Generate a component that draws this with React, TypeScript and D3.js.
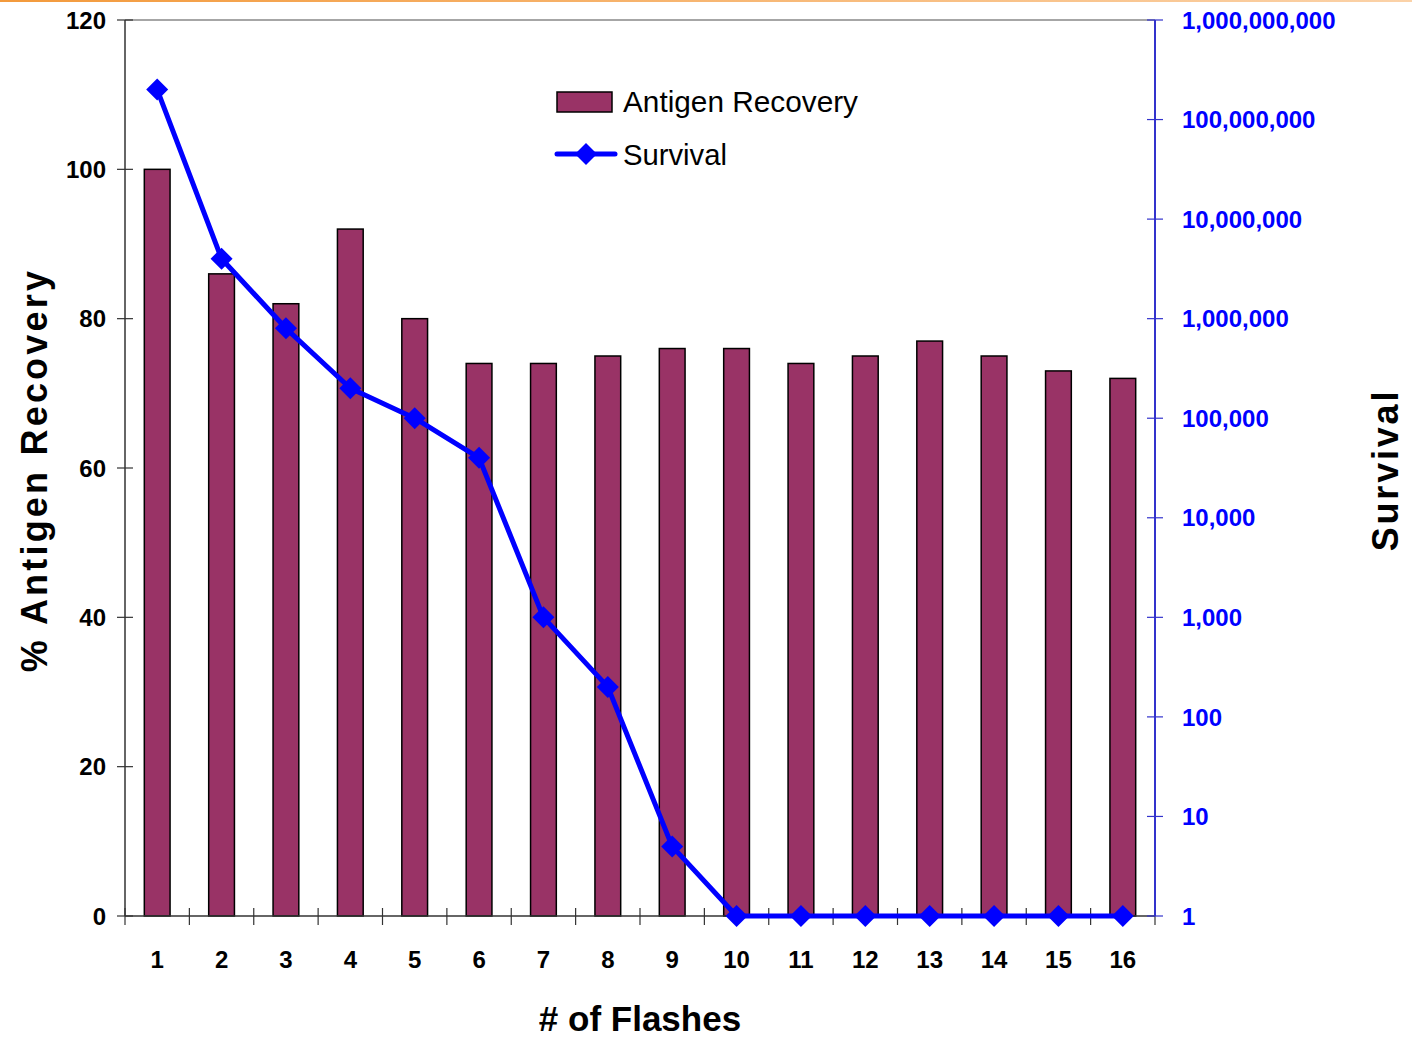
import React from "react";
import * as d3 from "d3";

const flashes = ["1", "2", "3", "4", "5", "6", "7", "8", "9", "10", "11", "12", "13", "14", "15", "16"];
const antigenRecovery = [100, 86, 82, 92, 80, 74, 74, 75, 76, 76, 74, 75, 77, 75, 73, 72];
const survival = [2e8, 4e6, 8e5, 2e5, 1e5, 4e4, 1000, 200, 5, 1, 1, 1, 1, 1, 1, 1];
const leftTicks = [0, 20, 40, 60, 80, 100, 120];
const rightTicks = [1, 10, 100, 1e3, 1e4, 1e5, 1e6, 1e7, 1e8, 1e9];

const W = 1412;
const H = 1037;
const m = { left: 125, right: 1155, top: 20, bottom: 916 };
const FONT = "'Liberation Sans', Arial, sans-serif";

const App: React.FC = () => {
  const x = d3.scaleBand<string>().domain(flashes).range([m.left, m.right]);
  const y = d3.scaleLinear().domain([0, 120]).range([m.bottom, m.top]);
  const yLog = d3.scaleLog().domain([1, 1e9]).range([m.bottom, m.top]);
  const barW = x.bandwidth() * 0.4;
  const fmt = d3.format(",");

  const line = d3
    .line<number>()
    .x((_, i) => (x(flashes[i]) ?? 0) + x.bandwidth() / 2)
    .y((d) => yLog(d));

  const diamond = (cx: number, cy: number, r = 11) =>
    `M${cx},${cy - r}L${cx + r},${cy}L${cx},${cy + r}L${cx - r},${cy}Z`;

  // boundaries between categories for x ticks
  const xBounds = flashes.map((f) => x(f) ?? 0).concat([m.right]);

  return (
    <svg width={W} height={H} style={{ position: "absolute", left: 0, top: 0, background: "#fff" }}>
      <defs>
        <linearGradient id="topbar" x1="0" x2="1" y1="0" y2="0">
          <stop offset="0" stopColor="#f39a3c" />
          <stop offset="1" stopColor="#fbd2a8" />
        </linearGradient>
      </defs>
      <rect x={0} y={0} width={W} height={2} fill="url(#topbar)" />

      {/* plot frame top line */}
      <line x1={m.left} x2={m.right} y1={m.top} y2={m.top} stroke="#888" strokeWidth={1.5} />

      {/* bars */}
      {antigenRecovery.map((v, i) => {
        const cx = (x(flashes[i]) ?? 0) + x.bandwidth() / 2;
        return (
          <rect
            key={i}
            x={cx - barW / 2}
            y={y(v)}
            width={barW}
            height={m.bottom - y(v)}
            fill="#993366"
            stroke="#000"
            strokeWidth={1.5}
          />
        );
      })}

      {/* left axis */}
      <line x1={m.left} x2={m.left} y1={m.top} y2={m.bottom} stroke="#333" strokeWidth={1.5} />
      {leftTicks.map((t) => (
        <g key={t}>
          <line x1={m.left - 8} x2={m.left + 8} y1={y(t)} y2={y(t)} stroke="#333" strokeWidth={1.2} />
          <text
            x={106}
            y={y(t)}
            dy="0.36em"
            textAnchor="end"
            fontFamily={FONT}
            fontWeight="bold"
            fontSize={24}
            fill="#000"
          >
            {t}
          </text>
        </g>
      ))}

      {/* x axis */}
      <line x1={m.left} x2={m.right} y1={m.bottom} y2={m.bottom} stroke="#333" strokeWidth={1.5} />
      {xBounds.map((bx, i) => (
        <line key={i} x1={bx} x2={bx} y1={m.bottom - 8} y2={m.bottom + 9} stroke="#333" strokeWidth={1.2} />
      ))}
      {flashes.map((f) => (
        <text
          key={f}
          x={(x(f) ?? 0) + x.bandwidth() / 2}
          y={968}
          textAnchor="middle"
          fontFamily={FONT}
          fontWeight="bold"
          fontSize={24}
          fill="#000"
        >
          {f}
        </text>
      ))}

      {/* right axis */}
      <line x1={m.right} x2={m.right} y1={m.top} y2={m.bottom} stroke="#3333cc" strokeWidth={2} />
      {rightTicks.map((t) => (
        <g key={t}>
          <line x1={m.right - 8} x2={m.right + 8} y1={yLog(t)} y2={yLog(t)} stroke="#3333cc" strokeWidth={1.2} />
          <text
            x={1182}
            y={yLog(t)}
            dy="0.36em"
            fontFamily={FONT}
            fontWeight="bold"
            fontSize={24}
            fill="#0000ff"
          >
            {fmt(t)}
          </text>
        </g>
      ))}

      {/* survival line */}
      <path d={line(survival) ?? ""} fill="none" stroke="#0000ff" strokeWidth={5} strokeLinejoin="round" />
      {survival.map((v, i) => (
        <path key={i} d={diamond((x(flashes[i]) ?? 0) + x.bandwidth() / 2, yLog(v))} fill="#0000ff" />
      ))}

      {/* axis titles */}
      <text
        transform={`translate(47,470) rotate(-90)`}
        textAnchor="middle"
        fontFamily={FONT}
        fontWeight="bold"
        fontSize={36}
        letterSpacing={3.2}
        fill="#000"
      >
        % Antigen Recovery
      </text>
      <text
        transform={`translate(1398,470) rotate(-90)`}
        textAnchor="middle"
        fontFamily={FONT}
        fontWeight="bold"
        fontSize={36}
        letterSpacing={2.8}
        fill="#000"
      >
        Survival
      </text>
      <text x={640} y={1031} textAnchor="middle" fontFamily={FONT} fontWeight="bold" fontSize={35} fill="#000">
        # of Flashes
      </text>

      {/* legend */}
      <rect x={557} y={92} width={55} height={20} fill="#993366" stroke="#000" strokeWidth={1.5} />
      <text x={623} y={112} fontFamily={FONT} fontSize={30} textLength={235} lengthAdjust="spacingAndGlyphs" fill="#000">
        Antigen Recovery
      </text>
      <line x1={557} x2={615} y1={154} y2={154} stroke="#0000ff" strokeWidth={5} strokeLinecap="round" />
      <path d={diamond(586, 154, 11)} fill="#0000ff" />
      <text x={623} y={165} fontFamily={FONT} fontSize={30} textLength={104} lengthAdjust="spacingAndGlyphs" fill="#000">
        Survival
      </text>
    </svg>
  );
};

export default App;
